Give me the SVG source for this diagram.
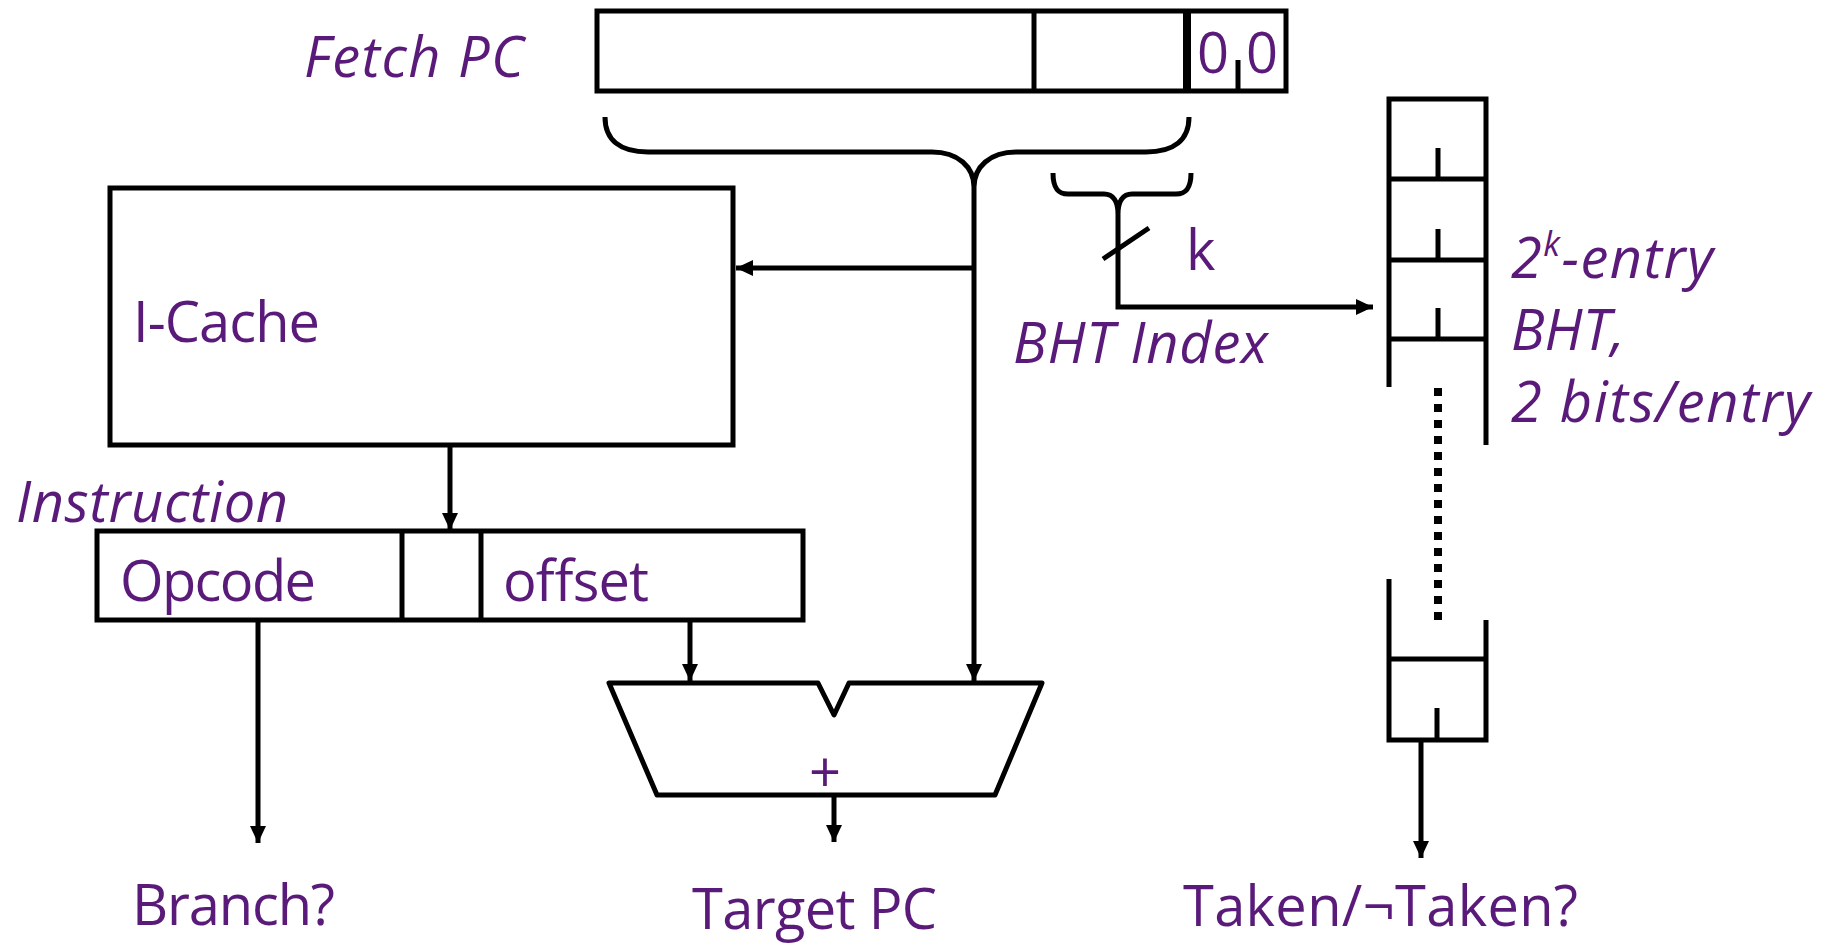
<svg xmlns="http://www.w3.org/2000/svg" width="1831" height="945" viewBox="0 0 1831 945">
<style>
.ln{fill:none;stroke:#000;stroke-width:5;stroke-linecap:butt;stroke-linejoin:miter}
.box{fill:#fff;stroke:#000;stroke-width:5}
.t{font-family:"Open Sans","Liberation Sans",sans-serif;font-size:56px;fill:#5a1a7a}
.i{font-style:italic}
.arr{fill:none;stroke:#000;stroke-width:5;marker-end:url(#ah)}
</style>
<defs>
<marker id="ah" markerUnits="userSpaceOnUse" markerWidth="18" markerHeight="16" refX="17" refY="8" orient="auto">
<path d="M0,0 L17,8 L0,16 z" fill="#000"/>
</marker>
</defs>
<rect width="1831" height="945" fill="#fff"/>

<g id="fetch-pc">
<text class="t i" x="304" y="77" textLength="220">Fetch PC</text>
<rect class="box" x="597" y="11" width="689" height="80"/>
<line class="ln" x1="1034" y1="11" x2="1034" y2="91"/>
<line class="ln" x1="1187" y1="11" x2="1187" y2="91" style="stroke-width:8"/>
<line class="ln" x1="1238" y1="60" x2="1238" y2="91"/>
<text class="t" x="1213" y="73" text-anchor="middle">0</text>
<text class="t" x="1262" y="73" text-anchor="middle">0</text>
</g>

<g id="icache">
<rect class="box" x="110" y="188" width="623" height="257"/>
<text class="t" x="133" y="342" textLength="187">I-Cache</text>
</g>

<g id="instruction">
<text class="t i" x="16" y="522" textLength="272">Instruction</text>
<rect class="box" x="97" y="531" width="706" height="89"/>
<line class="ln" x1="402" y1="531" x2="402" y2="620"/>
<line class="ln" x1="481" y1="531" x2="481" y2="620"/>
<text class="t" x="120" y="601" textLength="196">Opcode</text>
<text class="t" x="503" y="601" textLength="146">offset</text>
</g>

<g id="adder">
<polygon class="box" points="609,683 818,683 834,715 849,683 1042,683 995,795 657,795" style="stroke-linejoin:round"/>
<text class="t" x="825" y="792" text-anchor="middle">+</text>
</g>

<g id="bht">
<path class="ln" d="M1389,387 L1389,99 L1486,99 L1486,445"/>
<line class="ln" x1="1389" y1="179" x2="1486" y2="179"/>
<line class="ln" x1="1389" y1="260" x2="1486" y2="260"/>
<line class="ln" x1="1389" y1="339" x2="1486" y2="339"/>
<line class="ln" x1="1438" y1="148" x2="1438" y2="179"/>
<line class="ln" x1="1438" y1="229" x2="1438" y2="260"/>
<line class="ln" x1="1438" y1="308" x2="1438" y2="339"/>
<line x1="1438" y1="388" x2="1438" y2="620" stroke="#000" stroke-width="8" stroke-dasharray="8 8"/>
<path class="ln" d="M1389,579 L1389,740 L1486,740 L1486,620"/>
<line class="ln" x1="1389" y1="659" x2="1486" y2="659"/>
<line class="ln" x1="1437" y1="708" x2="1437" y2="740"/>
<text class="t i" x="1511" y="278" textLength="202">2<tspan font-size="34" dy="-22">k</tspan><tspan dy="22">-entry</tspan></text>
<text class="t i" x="1511" y="350">BHT,</text>
<text class="t i" x="1511" y="422" textLength="299">2 bits/entry</text>
</g>

<g id="labels">
<text class="t i" x="1013" y="363" textLength="255">BHT Index</text>
<text class="t" x="1186" y="270">k</text>
<text class="t" x="132" y="925" textLength="203">Branch?</text>
<text class="t" x="692" y="929" textLength="245">Target PC</text>
<text class="t" x="1183" y="926" textLength="395">Taken/¬Taken?</text>
</g>

<g id="connectors">
<path class="ln" d="M605,117 C605,140 620,152 648,152 L932,152 C958,152 974,167 974,187 C974,167 990,152 1016,152 L1146,152 C1174,152 1189,140 1189,117"/>
<path class="ln" d="M1053,173 C1053,188 1058,194 1068,194 L1104,194 C1113,194 1118,201 1118,214 C1118,201 1123,194 1132,194 L1176,194 C1186,194 1191,188 1191,173"/>
<line class="arr" x1="974" y1="187" x2="974" y2="681"/>
<line class="arr" x1="974" y1="268" x2="736" y2="268"/>
<line class="arr" x1="450" y1="445" x2="450" y2="530"/>
<line class="arr" x1="258" y1="620" x2="258" y2="843"/>
<line class="arr" x1="690" y1="620" x2="690" y2="681"/>
<line class="arr" x1="834" y1="795" x2="834" y2="842"/>
<path class="arr" d="M1118,214 L1118,307 L1373,307"/>
<line class="ln" x1="1103" y1="259" x2="1149" y2="228"/>
<line class="arr" x1="1421" y1="740" x2="1421" y2="858"/>
</g>
</svg>
